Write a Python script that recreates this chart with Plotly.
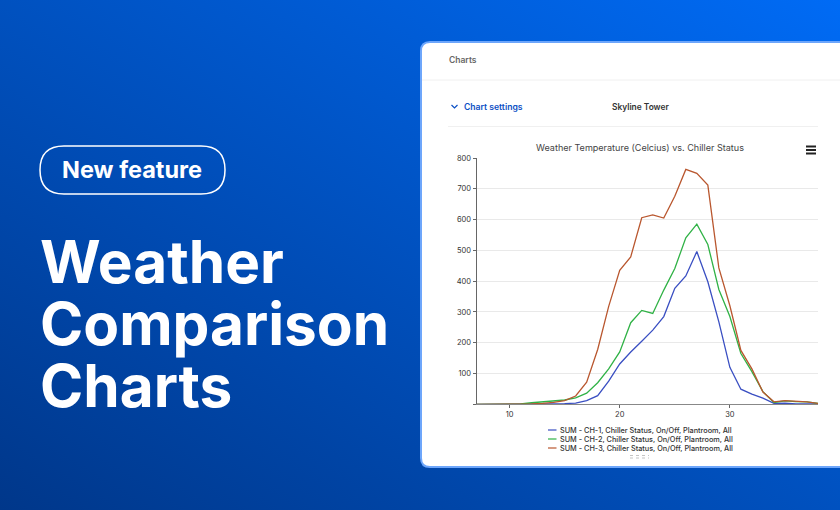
import base64
import plotly.graph_objects as go

W = 840
H = 510

# weather temperature, and how many chillers were on at each temperature
temps = list(range(7, 39))
ch1 = [0, 0, 0, 0, 0, 0, 1, 2, 2, 4, 12, 28, 75, 131, 170, 205, 241, 285, 377, 417, 496, 398, 268, 120, 49, 33, 20, 3, 4, 1, 1, 1]
ch2 = [0, 0, 0, 0, 1, 5, 8, 9, 14, 21, 36, 70, 115, 170, 265, 305, 295, 371, 441, 541, 585, 519, 373, 285, 165, 106, 41, 6, 11, 9, 8, 3]
ch3 = [0, 0, 0, 0, 0, 1, 3, 6, 12, 27, 72, 178, 318, 435, 479, 606, 615, 605, 676, 763, 750, 712, 443, 320, 175, 115, 40, 8, 12, 10, 8, 3]

series_names = [
    "SUM - CH-1, Chiller Status, On/Off, Plantroom, All",
    "SUM - CH-2, Chiller Status, On/Off, Plantroom, All",
    "SUM - CH-3, Chiller Status, On/Off, Plantroom, All",
]
series_colors = ["#3a4fc2", "#30b246", "#b9572f"]
y_ticks = [0, 100, 200, 300, 400, 500, 600, 700, 800]
y_labels = ["", "100", "200", "300", "400", "500", "600", "700", "800"]
x_ticks = [10, 20, 30]
headline = ["Weather", "Comparison", "Charts"]


# pixel helpers, the picture is laid out in screen pixels
def px(x):
    return x / W


def py(y):
    return (H - y) / H


fig = go.Figure()
for name, vals, color in zip(series_names, [ch1, ch2, ch3], series_colors):
    fig.add_trace(go.Scatter(x=temps, y=vals, mode="lines", name=name,
                             line=dict(color=color, width=1.3), showlegend=False))

shapes = []
annotations = []


def add_line(x0, y0, x1, y1, color, width=1, dash="solid"):
    shapes.append(dict(type="line", xref="paper", yref="paper", x0=px(x0), y0=py(y0), x1=px(x1), y1=py(y1),
                       line=dict(color=color, width=width, dash=dash)))


def add_text(x, y, text, size, color, weight=400, anchor="left", family="Inter"):
    annotations.append(dict(xref="paper", yref="paper", x=px(x), y=py(y), text=text, showarrow=False,
                            xanchor=anchor, yanchor="middle", xshift=0, yshift=0, borderpad=0,
                            font=dict(family=family, size=size, color=color, weight=weight)))


# white card, runs off the right edge
card = f"M {px(860)},{py(42)} L {px(430)},{py(42)} Q {px(421)},{py(42)} {px(421)},{py(51)} " \
       f"L {px(421)},{py(458)} Q {px(421)},{py(467)} {px(430)},{py(467)} L {px(860)},{py(467)} Z"
shapes.append(dict(type="path", xref="paper", yref="paper", path=card, fillcolor="white",
                   line=dict(color="#6da6fb", width=2), layer="below"))
add_line(422, 80, 840, 80, "#f0f0f0")
add_line(448, 126.5, 818, 126.5, "#f0f0f0")

# chevron next to chart settings
shapes.append(dict(type="path", xref="paper", yref="paper",
                   path=f"M {px(451.5)},{py(105)} L {px(454.5)},{py(108)} L {px(457.5)},{py(105)}",
                   line=dict(color="#0b4fc4", width=1.2)))

# pill round the new feature label
pill = f"M {px(64)},{py(146)} L {px(201)},{py(146)} Q {px(225)},{py(146)} {px(225)},{py(170)} " \
       f"Q {px(225)},{py(194)} {px(201)},{py(194)} L {px(64)},{py(194)} " \
       f"Q {px(40)},{py(194)} {px(40)},{py(170)} Q {px(40)},{py(146)} {px(64)},{py(146)} Z"
shapes.append(dict(type="path", xref="paper", yref="paper", path=pill, line=dict(color="white", width=1.5)))

# export menu icon
shapes.append(dict(type="rect", xref="paper", yref="paper", x0=px(800), x1=px(818), y0=py(143), y1=py(159),
                   fillcolor="white", line=dict(width=0)))
for y in [146.5, 150, 153.5]:
    add_line(806, y, 816, y, "#222222", 2)

# legend
for i, (name, color) in enumerate(zip(series_names, series_colors)):
    y = 430 + i * 9
    add_line(548, y, 556.5, y, color, 1.2)
    add_text(559, y, name, 7.3, "#333333", 500)

# little drag grip under the legend
add_line(630, 455.5, 649, 455.5, "#c4c4c4", 1, "dot")
add_line(630, 458, 649, 458, "#c4c4c4", 1, "dot")

add_text(447.5, 59.5, "Charts", 8.5, "#666666", 600)
add_text(462.5, 106.5, "Chart settings", 8.6, "#0b4fc4", 600)
add_text(610.5, 106.5, "Skyline Tower", 8.4, "#333333", 600)
add_text(132, 169.5, "New feature", 23.5, "white", 700, "center")
for line, y in zip(headline, [261.5, 323.5, 385.5]):
    add_text(38.5, y, line, 58.5, "white", 700)

# page background gradient
svg = ('<svg xmlns="http://www.w3.org/2000/svg" width="840" height="510">'
       '<defs><linearGradient id="g" x1="0" y1="1" x2="1" y2="0">'
       '<stop offset="0" stop-color="#00378a"/><stop offset="1" stop-color="#006bf5"/>'
       '</linearGradient></defs><rect width="840" height="510" fill="url(#g)"/></svg>')
bg = "data:image/svg+xml;base64," + base64.b64encode(svg.encode()).decode()

fig.update_layout(
    width=W, height=H,
    margin=dict(l=0, r=0, t=0, b=0, autoexpand=False),
    paper_bgcolor="rgba(0,0,0,0)",
    plot_bgcolor="rgba(0,0,0,0)",
    showlegend=False,
    font=dict(family="Inter", size=7.5, color="#333333"),
    title=dict(text="Weather Temperature (Celcius) vs. Chiller Status", x=640 / W, xanchor="center",
               y=py(148), yanchor="middle", font=dict(family="Inter", size=9.05, color="#444444")),
    images=[dict(source=bg, xref="paper", yref="paper", x=0, y=1, sizex=1, sizey=1,
                 xanchor="left", yanchor="top", sizing="stretch", layer="below")],
    shapes=shapes,
    annotations=annotations,
    xaxis=dict(domain=[px(476.5), px(818)], range=[7, 38], tickvals=x_ticks, ticks="outside", ticklen=3,
               tickcolor="#666666", showgrid=False, zeroline=False, showline=True, linecolor="#888888",
               linewidth=1, automargin=False, tickfont=dict(size=7.5, color="#333333")),
    yaxis=dict(domain=[py(404.3), py(158)], range=[0, 800], tickvals=y_ticks, ticktext=y_labels, ticks="outside",
               ticklen=3, tickcolor="#666666", showgrid=True, gridcolor="#e9e9e9", gridwidth=1, zeroline=False,
               showline=True, linecolor="#666666", linewidth=1, automargin=False,
               tickfont=dict(size=7.5, color="#333333")),
)

fig.write_html("out.html", config=dict(displayModeBar=False),
               post_script="document.body.style.margin='0';")
